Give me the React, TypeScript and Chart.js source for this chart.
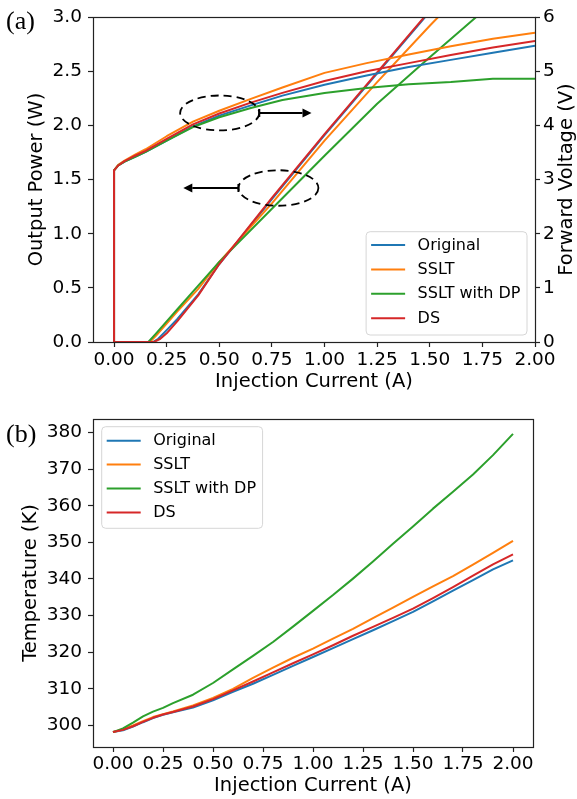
import React, { useEffect, useRef } from "react";
import { Chart, registerables } from "chart.js";

Chart.register(...registerables);

const FONT = "'DejaVu Sans', 'Noto Sans', sans-serif";
const SERIF = "'Liberation Serif', 'DejaVu Serif', serif";

const seriesNames = ["Original", "SSLT", "SSLT with DP", "DS"];
const seriesColors = ["#1f77b4", "#ff7f0e", "#2ca02c", "#d62728"];

// ---------- ticks ----------
const currentTicks = [0, 0.25, 0.5, 0.75, 1.0, 1.25, 1.5, 1.75, 2.0];
const currentTickLabels = ["0.00", "0.25", "0.50", "0.75", "1.00", "1.25", "1.50", "1.75", "2.00"];
const powerTicks = [0, 0.5, 1.0, 1.5, 2.0, 2.5, 3.0];
const powerTickLabels = ["0.0", "0.5", "1.0", "1.5", "2.0", "2.5", "3.0"];
const voltageTicks = [0, 1, 2, 3, 4, 5, 6];
const voltageTickLabels = ["0", "1", "2", "3", "4", "5", "6"];
const tempTicks = [300, 310, 320, 330, 340, 350, 360, 370, 380];
const tempTickLabels = ["300", "310", "320", "330", "340", "350", "360", "370", "380"];

// ---------- (a) output power (W) ----------
const powerCurrentOriginal = [0, 0.185, 0.21, 0.25, 0.3, 0.4, 0.5, 0.75, 1.0, 1.25, 1.5, 1.6];
const powerOriginal = [0, 0, 0.03, 0.11, 0.21, 0.44, 0.72, 1.32, 1.91, 2.48, 3.05, 3.27];
const powerCurrentSSLT = [0, 0.17, 0.2, 0.25, 0.3, 0.4, 0.5, 0.75, 1.0, 1.25, 1.5, 1.6];
const powerSSLT = [0, 0, 0.06, 0.17, 0.28, 0.49, 0.74, 1.28, 1.86, 2.4, 2.92, 3.12];
const powerCurrentDP = [0, 0.163, 0.2, 0.25, 0.3, 0.4, 0.5, 0.75, 1.0, 1.25, 1.5, 1.75, 1.8];
const powerDP = [0, 0, 0.08, 0.19, 0.3, 0.52, 0.74, 1.23, 1.72, 2.2, 2.63, 3.05, 3.14];
const powerCurrentDS = [0, 0.19, 0.22, 0.25, 0.3, 0.4, 0.5, 0.75, 1.0, 1.25, 1.5, 1.6];
const powerDS = [0, 0, 0.03, 0.08, 0.19, 0.43, 0.72, 1.33, 1.92, 2.49, 3.06, 3.28];

// ---------- (a) forward voltage (V) ----------
const voltageCurrent = [0, 0, 0.02, 0.05, 0.1, 0.15, 0.25, 0.375, 0.5, 0.65, 0.8, 1.0, 1.2, 1.4, 1.6, 1.8, 2.0];
const voltageOriginal = [0, 3.17, 3.26, 3.33, 3.42, 3.51, 3.72, 3.98, 4.18, 4.37, 4.55, 4.75, 4.92, 5.08, 5.21, 5.34, 5.47];
const voltageSSLT = [0, 3.17, 3.27, 3.35, 3.46, 3.56, 3.8, 4.07, 4.27, 4.49, 4.7, 4.97, 5.15, 5.31, 5.46, 5.6, 5.71];
const voltageDP = [0, 3.17, 3.26, 3.33, 3.42, 3.51, 3.72, 3.97, 4.15, 4.32, 4.47, 4.6, 4.69, 4.76, 4.8, 4.86, 4.86];
const voltageDS = [0, 3.17, 3.26, 3.34, 3.44, 3.53, 3.75, 4.02, 4.22, 4.42, 4.6, 4.82, 5.0, 5.15, 5.3, 5.44, 5.56];

// ---------- (b) temperature (K) ----------
const tempCurrent = [0, 0.05, 0.1, 0.15, 0.2, 0.25, 0.3, 0.4, 0.5, 0.6, 0.7, 0.8, 0.9, 1.0, 1.1, 1.2, 1.3, 1.4, 1.5, 1.6, 1.7, 1.8, 1.9, 2.0];
const tempOriginal = [298.2, 298.7, 299.7, 300.9, 302.0, 302.9, 303.6, 304.9, 306.9, 309.2, 311.4, 313.8, 316.3, 318.7, 321.1, 323.6, 326.0, 328.5, 331.0, 333.9, 336.8, 339.7, 342.6, 345.1];
const tempSSLT = [298.2, 298.9, 300.0, 301.2, 302.3, 303.1, 303.8, 305.5, 307.5, 310.0, 313.0, 315.8, 318.5, 321.0, 323.7, 326.4, 329.3, 332.2, 335.1, 338.0, 340.8, 343.9, 347.1, 350.4];
const tempDP = [298.2, 299.2, 300.8, 302.5, 303.8, 304.8, 306.1, 308.4, 311.6, 315.3, 319.0, 322.8, 327.0, 331.3, 335.6, 340.1, 344.8, 349.6, 354.3, 359.2, 363.8, 368.5, 373.8, 379.6];
const tempDS = [298.2, 298.8, 299.8, 301.0, 302.1, 303.0, 303.7, 305.2, 307.2, 309.6, 312.0, 314.5, 317.0, 319.4, 321.9, 324.5, 326.9, 329.4, 331.9, 334.8, 337.8, 340.9, 344.0, 346.7];

// ---------- annotations of panel (a), in data units (A, W) ----------
const annotationEllipses = [
  { cx: 0.502, cy: 2.115, rx: 0.188, ry: 0.161, arrowTo: 0.938, dir: 1 },
  { cx: 0.781, cy: 1.422, rx: 0.19, ry: 0.164, arrowTo: 0.329, dir: -1 },
];

const toPoints = (xs: number[], ys: number[]) => ys.map((y, i) => ({ x: xs[i], y }));

const FRAME = "#222";
const TICK_SIZE = 18.5;
const TITLE_SIZE = 19.5;

function setTicks(values: number[]) {
  return (scale: any) => {
    scale.ticks = values.map((v) => ({ value: v }));
  };
}

function axisCommon() {
  return {
    grid: { display: true, drawOnChartArea: false, drawTicks: true, tickLength: 5, tickColor: FRAME, tickWidth: 1.2 },
    border: { display: false },
  };
}

function drawLegend(
  ctx: CanvasRenderingContext2D,
  anchorX: number,
  anchorY: number,
  fromRight: boolean,
  height: number,
  firstRow: number,
  rowGap: number
) {
  ctx.save();
  ctx.font = `16px ${FONT}`;
  let maxW = 0;
  for (const n of seriesNames) maxW = Math.max(maxW, ctx.measureText(n).width);
  const width = 51.5 + maxW + 6.5;
  const left = fromRight ? anchorX - width : anchorX;
  const top = anchorY;
  const r = 4;
  ctx.beginPath();
  ctx.moveTo(left + r, top);
  ctx.lineTo(left + width - r, top);
  ctx.arcTo(left + width, top, left + width, top + r, r);
  ctx.lineTo(left + width, top + height - r);
  ctx.arcTo(left + width, top + height, left + width - r, top + height, r);
  ctx.lineTo(left + r, top + height);
  ctx.arcTo(left, top + height, left, top + height - r, r);
  ctx.lineTo(left, top + r);
  ctx.arcTo(left, top, left + r, top, r);
  ctx.closePath();
  ctx.fillStyle = "rgba(255,255,255,0.8)";
  ctx.fill();
  ctx.strokeStyle = "#d6d6d6";
  ctx.lineWidth = 1;
  ctx.stroke();
  ctx.textBaseline = "middle";
  ctx.textAlign = "left";
  seriesNames.forEach((n, i) => {
    const y = top + firstRow + i * rowGap;
    ctx.strokeStyle = seriesColors[i];
    ctx.lineWidth = 2;
    ctx.beginPath();
    ctx.moveTo(left + 5, y);
    ctx.lineTo(left + 39, y);
    ctx.stroke();
    ctx.fillStyle = "#000";
    ctx.fillText(n, left + 51.5, y + 0.5);
  });
  ctx.restore();
}

function drawFrame(chart: any) {
  const { ctx, chartArea: a } = chart;
  ctx.save();
  ctx.strokeStyle = FRAME;
  ctx.lineWidth = 1.2;
  ctx.strokeRect(Math.round(a.left) + 0.5, Math.round(a.top) + 0.5, Math.round(a.right - a.left), Math.round(a.bottom - a.top));
  ctx.restore();
}

const topPlugin = {
  id: "topExtras",
  afterDatasetsDraw(chart: any) {
    const { ctx, chartArea: a, scales } = chart;
    const xs = scales.x;
    const ys = scales.y;
    ctx.save();
    ctx.strokeStyle = "#000";
    ctx.fillStyle = "#000";
    for (const e of annotationEllipses) {
      const cx = xs.getPixelForValue(e.cx);
      const cy = ys.getPixelForValue(e.cy);
      const rx = Math.abs(xs.getPixelForValue(e.cx + e.rx) - cx);
      const ry = Math.abs(ys.getPixelForValue(e.cy + e.ry) - cy);
      ctx.lineWidth = 1.8;
      ctx.setLineDash([8, 5]);
      ctx.beginPath();
      ctx.ellipse(cx, cy, rx, ry, 0, 0, Math.PI * 2);
      ctx.stroke();
      ctx.setLineDash([]);
      const x0 = cx + e.dir * rx;
      const x1 = xs.getPixelForValue(e.arrowTo);
      const head = 9;
      ctx.lineWidth = 2;
      ctx.beginPath();
      ctx.moveTo(x0, cy);
      ctx.lineTo(x1 - e.dir * head, cy);
      ctx.stroke();
      ctx.beginPath();
      ctx.moveTo(x0, cy - 4);
      ctx.lineTo(x0, cy + 4);
      ctx.stroke();
      ctx.beginPath();
      ctx.moveTo(x1, cy);
      ctx.lineTo(x1 - e.dir * head, cy - 4.5);
      ctx.lineTo(x1 - e.dir * head, cy + 4.5);
      ctx.closePath();
      ctx.fill();
    }
    ctx.restore();
    drawLegend(ctx, a.right - 8, a.bottom - 7 - 103.3, true, 103.3, 13.3, 24.4);
  },
  afterDraw(chart: any) {
    const { ctx, chartArea: a } = chart;
    drawFrame(chart);
    ctx.save();
    ctx.fillStyle = "#000";
    ctx.font = `${TITLE_SIZE}px ${FONT}`;
    ctx.textAlign = "center";
    ctx.textBaseline = "middle";
    ctx.translate(566.5, (a.top + a.bottom) / 2);
    ctx.rotate(-Math.PI / 2);
    ctx.fillText("Forward Voltage (V)", 0, 0);
    ctx.restore();
    ctx.save();
    ctx.fillStyle = "#000";
    ctx.font = `26px ${SERIF}`;
    ctx.textBaseline = "alphabetic";
    ctx.fillText("(a)", 6, 28.5);
    ctx.restore();
  },
};

const bottomPlugin = {
  id: "bottomExtras",
  afterDatasetsDraw(chart: any) {
    const { ctx, chartArea: a } = chart;
    drawLegend(ctx, a.left + 8.7, a.top + 7.7, false, 101.6, 14, 23.9);
  },
  afterDraw(chart: any) {
    const { ctx } = chart;
    drawFrame(chart);
    ctx.save();
    ctx.fillStyle = "#000";
    ctx.font = `26px ${SERIF}`;
    ctx.textBaseline = "alphabetic";
    ctx.fillText("(b)", 6, 42);
    ctx.restore();
  },
};

function lineDs(label: string, data: any[], color: string, order: number, axis?: string) {
  const ds: any = {
    label,
    data,
    borderColor: color,
    backgroundColor: color,
    borderWidth: 2,
    pointRadius: 0,
    fill: false,
    tension: 0,
    order,
    borderJoinStyle: "round",
  };
  if (axis) ds.yAxisID = axis;
  return ds;
}

function topConfig(): any {
  const powerCurr = [powerCurrentOriginal, powerCurrentSSLT, powerCurrentDP, powerCurrentDS];
  const powerVals = [powerOriginal, powerSSLT, powerDP, powerDS];
  const voltVals = [voltageOriginal, voltageSSLT, voltageDP, voltageDS];
  const datasets = [
    ...seriesNames.map((n, i) => lineDs(n, toPoints(voltageCurrent, voltVals[i]), seriesColors[i], 3 - i, "y1")),
    ...seriesNames.map((n, i) => lineDs(n, toPoints(powerCurr[i], powerVals[i]), seriesColors[i], 7 - i, "y")),
  ];
  const tickFont = { family: FONT, size: TICK_SIZE };
  const titleFont = { family: FONT, size: TITLE_SIZE };
  return {
    type: "line",
    data: { datasets },
    plugins: [topPlugin],
    options: {
      responsive: false,
      animation: false,
      events: [],
      layout: { padding: { top: 13, left: 0, right: 0, bottom: 0 } },
      plugins: { legend: { display: false }, tooltip: { enabled: false } },
      scales: {
        x: {
          type: "linear",
          min: -0.1,
          max: 2.0,
          afterBuildTicks: setTicks(currentTicks),
          afterFit: (s: any) => { s.height = 58; },
          ticks: { font: tickFont, color: "#000", padding: 2, maxRotation: 0, autoSkip: false, callback: (_v: any, i: number) => currentTickLabels[i] },
          ...axisCommon(),
          title: { display: true, text: "Injection Current (A)", font: titleFont, color: "#000", padding: { top: 0, bottom: 6 } },
        },
        y: {
          type: "linear",
          position: "left",
          min: 0,
          max: 3,
          afterBuildTicks: setTicks(powerTicks),
          afterFit: (s: any) => { s.width = 93; },
          ticks: { font: tickFont, color: "#000", padding: 6, autoSkip: false, callback: (_v: any, i: number) => powerTickLabels[i] },
          ...axisCommon(),
          title: { display: true, text: "Output Power (W)", font: titleFont, color: "#000", padding: { top: 25, bottom: 0 } },
        },
        y1: {
          type: "linear",
          position: "right",
          min: 0,
          max: 6,
          afterBuildTicks: setTicks(voltageTicks),
          afterFit: (s: any) => { s.width = 42; },
          ticks: { font: tickFont, color: "#000", padding: 3, autoSkip: false, callback: (_v: any, i: number) => voltageTickLabels[i] },
          ...axisCommon(),
          title: { display: false },
        },
      },
    },
  };
}

function bottomConfig(): any {
  const tempVals = [tempOriginal, tempSSLT, tempDP, tempDS];
  const datasets = seriesNames.map((n, i) => lineDs(n, toPoints(tempCurrent, tempVals[i]), seriesColors[i], 3 - i));
  const all = tempVals.flat();
  const lo = Math.min(...all);
  const hi = Math.max(...all);
  const m = (hi - lo) * 0.05;
  const tickFont = { family: FONT, size: TICK_SIZE };
  const titleFont = { family: FONT, size: TITLE_SIZE };
  return {
    type: "line",
    data: { datasets },
    plugins: [bottomPlugin],
    options: {
      responsive: false,
      animation: false,
      events: [],
      layout: { padding: { top: 19, left: 0, right: 44, bottom: 0 } },
      plugins: { legend: { display: false }, tooltip: { enabled: false } },
      scales: {
        x: {
          type: "linear",
          min: -0.1,
          max: 2.1,
          afterBuildTicks: setTicks(currentTicks),
          afterFit: (s: any) => { s.height = 52; },
          ticks: { font: tickFont, color: "#000", padding: 1, maxRotation: 0, autoSkip: false, callback: (_v: any, i: number) => currentTickLabels[i] },
          ...axisCommon(),
          title: { display: true, text: "Injection Current (A)", font: titleFont, color: "#000", padding: { top: 0, bottom: 1 } },
        },
        y: {
          type: "linear",
          position: "left",
          min: lo - m,
          max: hi + m,
          afterBuildTicks: setTicks(tempTicks),
          afterFit: (s: any) => { s.width = 93; },
          ticks: { font: tickFont, color: "#000", padding: 6, autoSkip: false, callback: (_v: any, i: number) => tempTickLabels[i] },
          ...axisCommon(),
          title: { display: true, text: "Temperature (K)", font: titleFont, color: "#000", padding: { top: 19, bottom: 0 } },
        },
      },
    },
  };
}

export default function App() {
  const topRef = useRef<HTMLCanvasElement>(null);
  const botRef = useRef<HTMLCanvasElement>(null);
  useEffect(() => {
    const c1 = new Chart(topRef.current as HTMLCanvasElement, topConfig());
    const c2 = new Chart(botRef.current as HTMLCanvasElement, bottomConfig());
    return () => {
      c1.destroy();
      c2.destroy();
    };
  }, []);
  return (
    <div style={{ position: "absolute", left: 0, top: 0, width: 577, height: 799, background: "#fff", overflow: "hidden" }}>
      <canvas ref={topRef} width={577} height={400} style={{ position: "absolute", left: 0, top: 0, width: 577, height: 400 }} />
      <canvas ref={botRef} width={577} height={399} style={{ position: "absolute", left: 0, top: 400, width: 577, height: 399 }} />
    </div>
  );
}
